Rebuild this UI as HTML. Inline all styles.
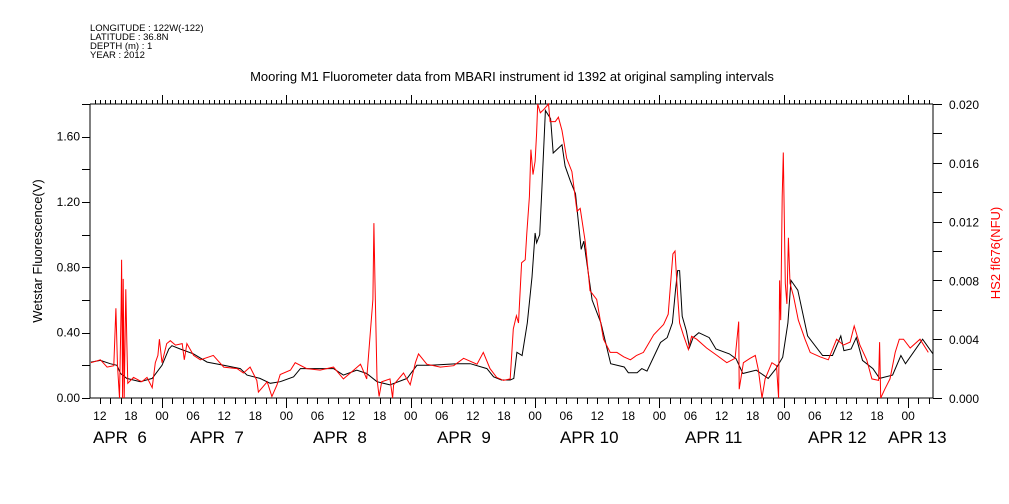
<!DOCTYPE html>
<html><head><meta charset="utf-8"><style>
body{margin:0;background:#fff;}
svg{display:block;font-family:"Liberation Sans",sans-serif;}
</style></head><body>
<svg id="chart" width="1009" height="504" viewBox="0 0 1009 504" xmlns="http://www.w3.org/2000/svg">
<g font-size="9.5" fill="#000">
<text x="90" y="31">LONGITUDE : 122W(-122)</text>
<text x="90" y="40">LATITUDE : 36.8N</text>
<text x="90" y="49">DEPTH (m) : 1</text>
<text x="90" y="58">YEAR : 2012</text>
</g>
<text x="512" y="81" font-size="13" text-anchor="middle">Mooring M1 Fluorometer data from MBARI instrument id 1392 at original sampling intervals</text>
<text transform="translate(42,251) rotate(-90)" font-size="13" text-anchor="middle">Wetstar Fluorescence(V)</text>
<text transform="translate(1000,253) rotate(-90)" font-size="13" text-anchor="middle" fill="#f00">HS2 fl676(NFU)</text>
<g id="axes"></g>
<g id="series"></g>
</svg>
<script>
// hours relative to Apr 6 00:00 and black (V) values
const blackHours=[-13.7,-11.9,-10,-8.7,-8,-6.8,-4.2,-1.9,0,1.3,1.9,3.5,6.1,8.7,11.9,15.1,16.4,18.9,20.9,22.8,25.4,26.7,29.3,33.1,35,37.6,39.5,41.5,44,47.3,49.2,51.8,56.9,59.5,62.7,64,65.5,67.2,67.9,68.5,69.5,70.5,71.4,72,72.3,72.9,73.3,74,75,75.5,77.2,77.8,78.8,79.8,80.9,81.4,83,84.7,86.6,89.2,90,91.7,92.6,93.6,96.2,97.5,98.5,99.1,99.5,99.9,100.4,101.2,101.8,102.5,103.6,105.6,106.9,109.5,110.8,112.1,114.7,117,118.5,119.8,120.8,121.4,122.7,124.6,127.5,129.4,131,131.6,133,134,135.2,137.2,138.5,141,142.6,143.5,146.8,148.8];
const blackValues=[0.22,0.23,0.21,0.20,0.15,0.12,0.10,0.12,0.20,0.30,0.32,0.30,0.27,0.22,0.20,0.18,0.14,0.12,0.09,0.10,0.13,0.18,0.18,0.18,0.14,0.17,0.15,0.10,0.08,0.12,0.20,0.20,0.21,0.21,0.18,0.13,0.11,0.11,0.12,0.28,0.26,0.46,0.74,1.01,0.95,1.00,1.27,1.76,1.71,1.50,1.55,1.42,1.33,1.25,0.91,0.96,0.60,0.46,0.21,0.19,0.155,0.155,0.18,0.165,0.34,0.37,0.46,0.66,0.78,0.78,0.50,0.41,0.31,0.37,0.40,0.37,0.30,0.27,0.24,0.15,0.17,0.12,0.18,0.25,0.46,0.72,0.66,0.38,0.26,0.26,0.38,0.29,0.30,0.37,0.23,0.18,0.12,0.14,0.26,0.21,0.36,0.27];
const redHours=[-13.7,-11.9,-10.6,-9.3,-8.9,-8.6,-8.2,-7.9,-7.8,-7.6,-7.5,-7.3,-7.0,-6.8,-6.6,-5.5,-3.9,-2.9,-1.9,-1.3,-0.8,-0.5,0,0.9,1.6,2.6,3.9,4.3,4.8,6.1,7.4,9.9,11.9,14.5,15.7,17,18.3,18.6,20.3,21.2,22.2,22.8,24.8,25.7,27.9,30.5,33.1,35,37,38.3,39.5,40.7,40.9,41.1,41.5,41.9,42.4,44,44.5,44.7,46.6,47.9,48.9,49.5,51.1,53.7,56.3,58.2,60.8,62,63.3,64.6,65.9,67.2,67.8,68.4,68.8,69.4,70.1,70.4,70.9,71.2,71.6,72,72.3,72.5,73,73.6,74.6,74.9,75.9,76.5,77.2,78.1,79.1,80.1,80.7,81.7,82.6,83.9,85.2,86.5,87.8,89.1,90.4,91.6,92.9,94.9,96.8,97.7,98.6,99,99.5,99.9,100.6,101.6,102.2,103.2,105.1,107.1,109,110.6,111.3,111.4,112.2,113.5,114.5,115.1,115.8,116.4,117.7,118.6,119,119.2,119.4,119.7,119.9,120.3,120.6,120.9,121.2,121.9,122.8,124.1,125.1,127,128.6,130.2,131.5,132.8,133.6,134.7,136,137,138.3,138.5,138.7,139.5,140.5,141.5,142.3,143.1,144.4,146.3,147.9];
const redValues=[0.0024,0.0026,0.0021,0.0022,0.0061,0.0022,0,0.0061,0.0094,0,0.0081,0,0.0074,0.0039,0.0010,0.0014,0.0011,0.0014,0.0007,0.0024,0.0029,0.0040,0.0024,0.0037,0.0039,0.0036,0.0037,0.0026,0.0037,0.0029,0.0026,0.0029,0.0021,0.0020,0.0017,0.0021,0.0012,0.0004,0.0011,0.0001,0.0009,0.0016,0.0019,0.0024,0.0020,0.0019,0.0021,0.0013,0.0019,0.0023,0.0013,0.0067,0.0119,0.0078,0.0013,0.0001,0.0011,0.0013,0,0.0009,0.0017,0.0009,0.0024,0.0030,0.0023,0.0021,0.0022,0.0027,0.0023,0.0031,0.0020,0.0014,0.0012,0.0013,0.0047,0.0056,0.0051,0.0092,0.0094,0.0112,0.0137,0.0169,0.0152,0.0161,0.0180,0.0200,0.0194,0.0196,0.0200,0.0188,0.0188,0.0191,0.0182,0.0163,0.0154,0.0127,0.0129,0.0106,0.0073,0.0067,0.0040,0.0031,0.0031,0.0028,0.0026,0.0029,0.0031,0.0043,0.0050,0.0057,0.0098,0.0100,0.0070,0.0051,0.0043,0.0033,0.0042,0.0040,0.0034,0.0029,0.0024,0.0027,0.0052,0.0006,0.0024,0.0027,0.0029,0.0019,0,0.0013,0.0024,0.0022,0,0.0080,0.0053,0.0137,0.0167,0.0078,0.0064,0.0109,0.0078,0.0069,0.0053,0.0040,0.0031,0.0028,0.0026,0.0040,0.0036,0.0038,0.0049,0.0036,0.0026,0.0013,0.0012,0.0038,0,0.0006,0.0013,0.0031,0.0040,0.0040,0.0034,0.0040,0.0031];
const hourLabels=["12","18","00","06","12","18","00","06","12","18","00","06","12","18","00","06","12","18","00","06","12","18","00","06","12","18","00"];
const dayLabels=["APR  6","APR  7","APR  8","APR  9","APR 10","APR 11","APR 12","APR 13"];
const leftTicks=[0,0.4,0.8,1.2,1.6];
const rightTicks=[0,0.004,0.008,0.012,0.016,0.020];

const X0=90,X1=933,Y0=104,Y1=398;
const H0=-13.9,H1=148.8,VMAX=1.8,NMAX=0.020;
const xs=h=>X0+(h-H0)/(H1-H0)*(X1-X0);
const yl=v=>Y1-v/VMAX*(Y1-Y0);
const yr=v=>Y1-v/NMAX*(Y1-Y0);
const NS="http://www.w3.org/2000/svg";
const ax=document.getElementById('axes'),se=document.getElementById('series');
function mk(tag,attrs,parent){const e=document.createElementNS(NS,tag);for(const k in attrs)e.setAttribute(k,attrs[k]);parent.appendChild(e);return e;}
function line(x1,y1,x2,y2,name){const e=mk('line',{x1,y1,x2,y2,stroke:'#000','stroke-width':1},ax);

return e;}
function txt(x,y,s,size,anchor,name,fill){const t=mk('text',{x,y,'font-size':size,'text-anchor':anchor,fill:fill||'#000'},ax);t.textContent=s;

return t;}
line(X0,Y0,X1,Y0,'top-axis');line(X0,Y1,X1,Y1,'x-axis');line(X0,Y0,X0,Y1,'y-axis-left');line(X1,Y0,X1,Y1,'y-axis-right');
for(let h=Math.ceil(H0);h<=H1;h++){const x=Math.round(xs(h))+0.5;const mid=((h%24)+24)%24===0;
 line(x,Y0,x,Y0-(mid?9:4),'top-tick');
 if(h%2===0) line(x,Y1,x,Y1+(mid?10:6),'bottom-tick');}
let li=0;for(let h=-12;h<=H1;h+=6){if(li<hourLabels.length)txt(xs(h),Y1+22,hourLabels[li++],12,'middle','hour-label');}
const dayX=[93,190,313,437,560,685,808,888];
dayLabels.forEach((d,i)=>{const t=txt(dayX[i],Y1+45,d,17,'start','date-label');t.setAttribute('xml:space','preserve');t.style.whiteSpace='pre';});
for(let v=0;v<=1.801;v+=0.2){const y=Math.round(yl(v))+0.5;line(X0-8,y,X0,y,'left-tick');}
leftTicks.forEach(v=>txt(X0-10,yl(v)+4,v.toFixed(2),12,'end','left-tick-label'));
for(let v=0;v<=0.02001;v+=0.002){const y=Math.round(yr(v))+0.5;line(X1,y,X1+9,y,'right-tick');}
rightTicks.forEach(v=>txt(X1+16,yr(v)+5,v.toFixed(3),12,'start','right-tick-label'));
const bp=mk('polyline',{points:blackHours.map((h,i)=>xs(h).toFixed(1)+','+yl(blackValues[i]).toFixed(1)).join(' '),fill:'none',stroke:'#000','stroke-width':1},se);


const rp=mk('polyline',{points:redHours.map((h,i)=>xs(h).toFixed(1)+','+yr(redValues[i]).toFixed(1)).join(' '),fill:'none',stroke:'#f00','stroke-width':1},se);


</script>
</body></html>
